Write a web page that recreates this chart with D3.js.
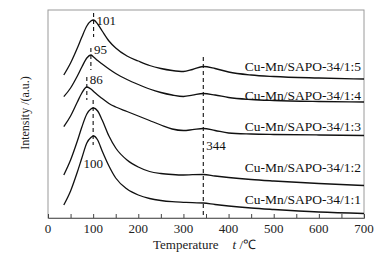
<!DOCTYPE html>
<html>
<head>
<meta charset="utf-8">
<script src="https://cdn.jsdelivr.net/npm/d3@7"></script>
<style>
  body { margin: 0; background: #fff; }
  svg { display: block; font-family: "Liberation Serif", "Times New Roman", serif; }
</style>
</head>
<body>
<svg id="chart"></svg>
<script>
// temperature grid (°C) shared by all curves
const temps = [35, 50, 65, 75, 86, 95, 101, 110, 120, 135, 150, 175, 200, 225, 250, 275, 300, 320, 344, 370, 400, 450, 500, 600, 700];

// intensities (a.u., offset stacked)
const s15 = [143, 155, 170, 181, 192, 197, 198, 194, 187, 177, 170, 162, 157, 152.5, 149.5, 147.5, 146.5, 148.5, 151.5, 149.5, 146, 143, 141.5, 140, 139];
const s14 = [121.3, 130, 142, 151, 160, 163, 161, 157.5, 154, 149, 144.5, 138.5, 133.5, 129, 125.5, 123, 121.5, 122.8, 124.5, 123, 120.5, 118.5, 117.5, 116.5, 116];
const s13 = [91.3, 102, 116, 125, 131, 129, 126.5, 123, 119.5, 114.5, 111, 106.5, 102, 97.5, 93, 89, 87.5, 88.3, 89.5, 87.5, 85, 84, 83.5, 83, 82.5];
const s12 = [43, 58, 77, 91, 104, 109, 110, 107, 98, 82, 70, 58, 51, 46.5, 44.5, 43.5, 43, 43.3, 43.5, 42, 40.5, 38.5, 37, 34.5, 32.5];
const s11 = [13, 27, 46, 60, 75, 80.5, 82, 78, 67, 52, 40, 29, 23, 19.5, 17.5, 16.3, 15.7, 15.3, 15, 13.5, 12, 10, 8.5, 6, 4.5];

const seriesNames = ["Cu-Mn/SAPO-34/1:5", "Cu-Mn/SAPO-34/1:4", "Cu-Mn/SAPO-34/1:3", "Cu-Mn/SAPO-34/1:2", "Cu-Mn/SAPO-34/1:1"];
const seriesValues = [s15, s14, s13, s12, s11];
// where each series label sits (intensity level of baseline)
const labelLevels = [147, 118, 87, 46, 14];

// peak markers: temperature, dashed line span (intensity from/to), label level
const peakTemps = [101, 95, 86, 100, 344];
const peakSpans = [[205, 181], [170, 148], [141, 118], [118, 73], [161, 0]];
const peakLabels = ["101", "95", "86", "100", "344"];
const peakLabelLevels = [198, 169, 139, 55, 73];

const xTicks = [0, 100, 200, 300, 400, 500, 600, 700];
const xMinor = d3.range(0, 701, 50);

const W = 388, H = 255;
const margin = { top: 10, right: 24, bottom: 37, left: 48 };

const svg = d3.select("#chart").attr("width", W).attr("height", H);

const x = d3.scaleLinear().domain([0, 700]).range([margin.left, W - margin.right]);
const y = d3.scaleLinear().domain([0, 208]).range([H - margin.bottom, margin.top]);

// frame
svg.append("rect")
  .attr("x", x(0)).attr("y", y(208))
  .attr("width", x(700) - x(0)).attr("height", y(0) - y(208))
  .attr("fill", "none").attr("stroke", "#9a9a9a").attr("stroke-width", 1);

// x axis
const xAxis = svg.append("g")
  .attr("transform", `translate(0,${y(0)})`)
  .call(d3.axisBottom(x).tickValues(xMinor).tickSize(-4).tickFormat(""));
xAxis.select(".domain").attr("stroke", "#666");
xAxis.selectAll(".tick line").attr("stroke", "#444");

svg.append("g")
  .selectAll("text")
  .data(xTicks)
  .join("text")
  .attr("x", d => x(d))
  .attr("y", y(0) + 15)
  .attr("text-anchor", "middle")
  .style("font-size", "13px")
  .attr("fill", "#222")
  .text(d => d);

// axis titles
const xt = svg.append("text")
  .attr("x", 153)
  .attr("y", 249)
  .style("font-size", "13px")
  .attr("fill", "#222");
xt.append("tspan").text("Temperature");
xt.append("tspan").attr("dx", 14).style("font-style", "italic").text("t");
xt.append("tspan").text(" /℃");

svg.append("text")
  .attr("transform", `translate(29,113) rotate(-90)`)
  .attr("text-anchor", "middle")
  .style("font-size", "12px")
  .attr("fill", "#222")
  .text("Intensity /(a.u.)");

// curves
const line = d3.line()
  .x(d => x(d[0]))
  .y(d => y(d[1]))
  .curve(d3.curveMonotoneX);

svg.append("g")
  .selectAll("path")
  .data(seriesValues)
  .join("path")
  .attr("d", vals => line(temps.map((t, i) => [t, vals[i]])))
  .attr("fill", "none")
  .attr("stroke", "#111")
  .attr("stroke-width", 1.3);

// series labels
svg.append("g")
  .selectAll("text")
  .data(seriesNames)
  .join("text")
  .attr("x", x(700) - 3)
  .attr("y", (d, i) => y(labelLevels[i]))
  .attr("text-anchor", "end")
  .style("font-size", "13.5px")
  .attr("fill", "#111")
  .text(d => d);

// dashed peak lines
svg.append("g")
  .selectAll("line")
  .data(peakTemps)
  .join("line")
  .attr("x1", d => x(d)).attr("x2", d => x(d))
  .attr("y1", (d, i) => y(peakSpans[i][0]))
  .attr("y2", (d, i) => y(peakSpans[i][1]))
  .attr("stroke", "#111")
  .attr("stroke-width", 1.1)
  .attr("stroke-dasharray", "4,3");

// peak labels
svg.append("g")
  .selectAll("text")
  .data(peakLabels)
  .join("text")
  .attr("x", (d, i) => i === 3 ? x(peakTemps[i]) : x(peakTemps[i]) + 3)
  .attr("y", (d, i) => y(peakLabelLevels[i]))
  .attr("dy", "0.35em")
  .attr("text-anchor", (d, i) => i === 3 ? "middle" : "start")
  .style("font-size", "13px")
  .attr("fill", "#111")
  .text(d => d);
</script>
</body>
</html>
